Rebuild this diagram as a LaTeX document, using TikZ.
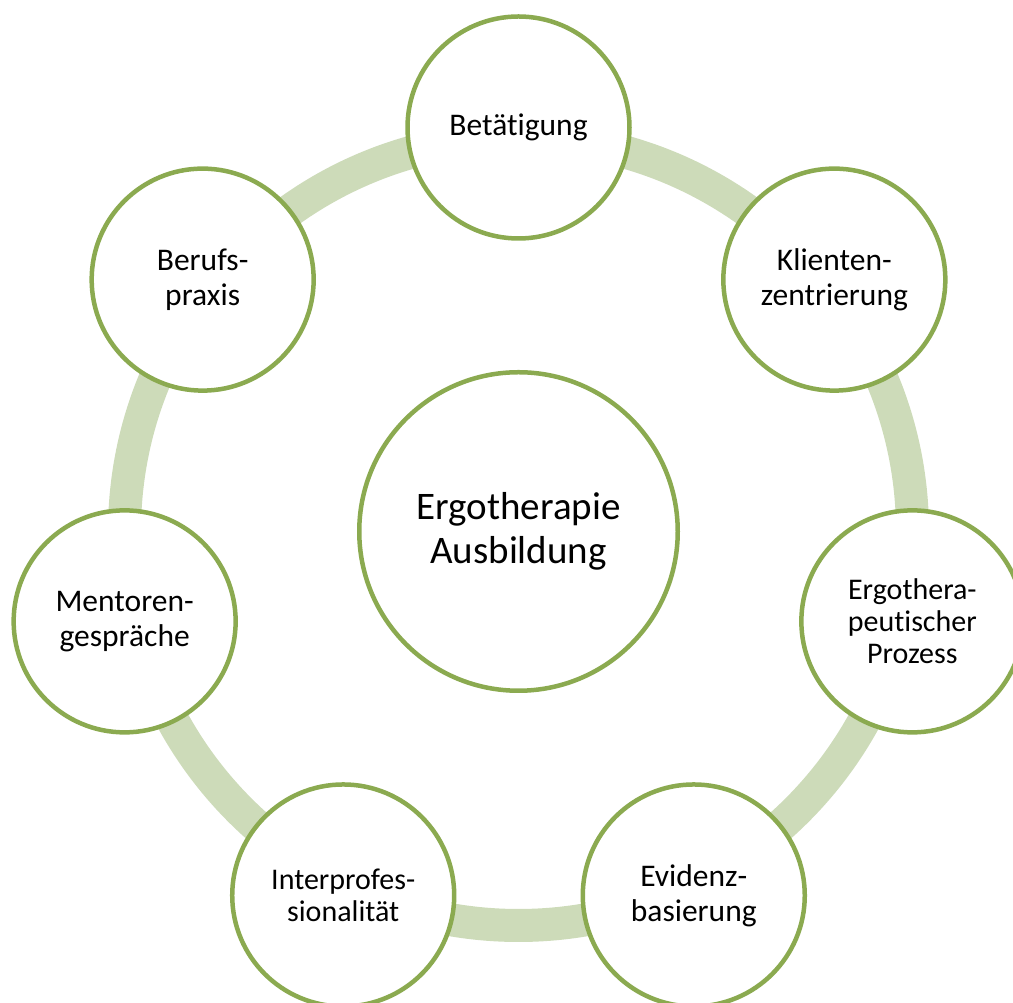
\documentclass[tikz,border=0pt]{standalone}
\usepackage{fontspec}
\setmainfont{Carlito}[Ligatures=NoCommon]
\definecolor{kreisgruen}{HTML}{8BAA50}
\definecolor{ringgruen}{HTML}{CDDBB9}

\begin{document}
\begin{tikzpicture}[x=1pt,y=1pt,
  ring/.style={draw=ringgruen, line width=33pt},
  satellit/.style={circle, draw=kreisgruen, line width=4.5pt, fill=white,
    minimum size=222pt, inner sep=0pt, align=center,
    font=\fontsize{31.5}{35}\selectfont},
  klein/.style={font=\fontsize{30}{32}\selectfont},
  zentrum/.style={circle, draw=kreisgruen, line width=4.5pt, fill=white,
    minimum size=318.5pt, inner sep=0pt, align=center,
    font=\fontsize{39}{44}\selectfont}]
\useasboundingbox (0,0) rectangle (1013,1003);
\clip (0,0) rectangle (1013,1003);
\coordinate (mitte) at (518.5,471.5);
\draw[ring] (mitte) circle (394);

\node[zentrum] (ausbildung) at (mitte) {Ergotherapie\\Ausbildung};

\node[satellit] (betaetigung) at ([shift={(90:404)}]mitte) {Betätigung};
\node[satellit] (klienten) at ([shift={(38.571:404)}]mitte) {Klienten-\\zentrierung};
\node[satellit, klein] (prozess) at ([shift={(-12.857:404)}]mitte) {Ergothera-\\peutischer\\Prozess};
\node[satellit] (evidenz) at ([shift={(-64.286:404)}]mitte) {Evidenz-\\basierung};
\node[satellit, klein] (interprof) at ([shift={(-115.714:404)}]mitte) {Interprofes-\\sionalität};
\node[satellit] (mentoren) at ([shift={(-167.143:404)}]mitte) {Mentoren-\\gespräche};
\node[satellit] (praxis) at ([shift={(141.429:404)}]mitte) {Berufs-\\praxis};
\end{tikzpicture}
\end{document}
